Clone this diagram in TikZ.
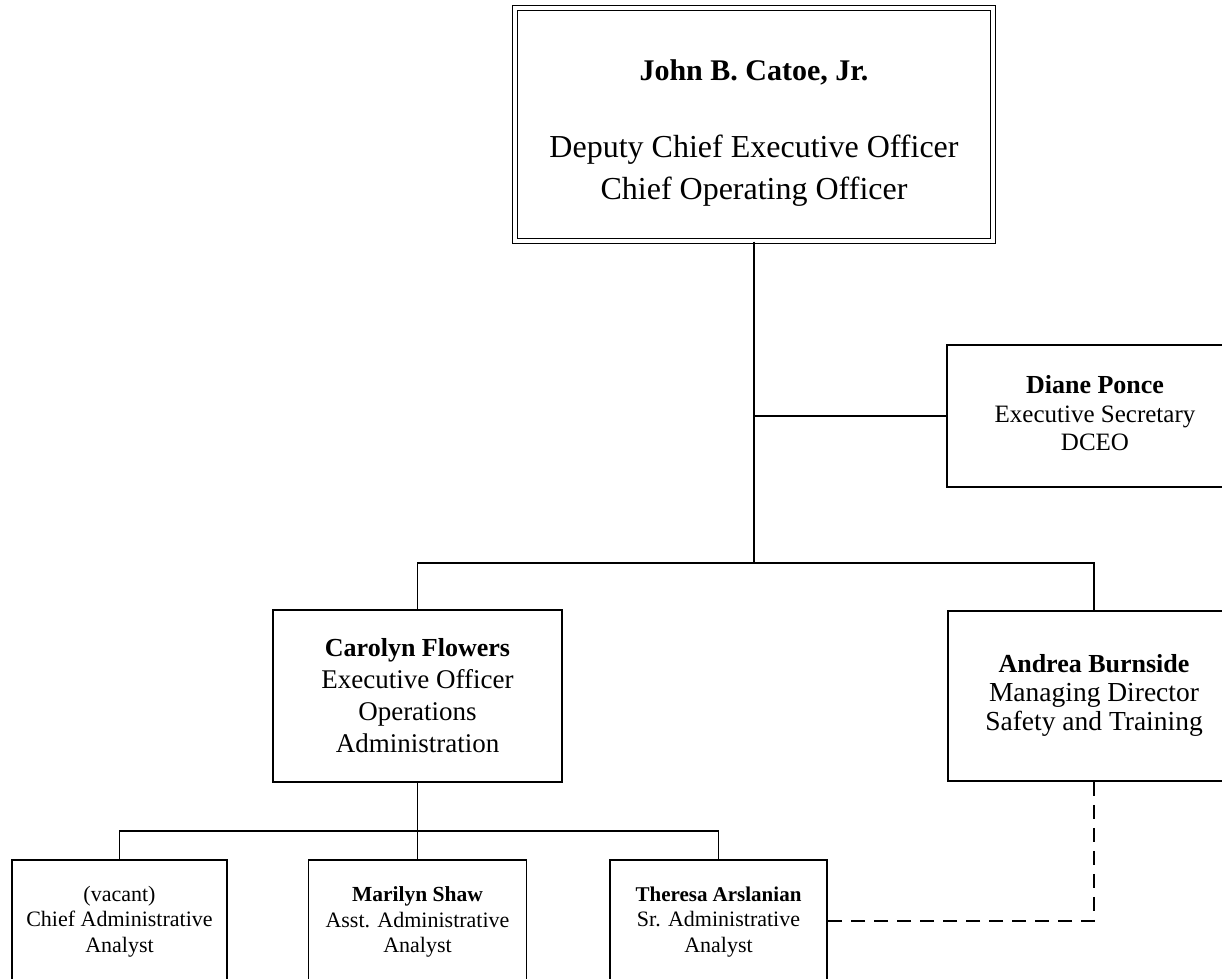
\documentclass[tikz,border=0pt]{standalone}
\usepackage{fontspec}
\setmainfont{Liberation Serif}
\begin{document}
\begin{tikzpicture}[x=1pt,y=-1pt,
  box/.style={draw, line width=1.9pt, rectangle, inner sep=0pt},
  dblbox/.style={draw, double, double distance=4pt, line width=1.4pt, rectangle, inner sep=0pt},
  txt/.style={anchor=north, align=center, inner sep=0pt},
  conn/.style={line width=1.9pt},
  dashconn/.style={line width=1.9pt, dash pattern=on 14pt off 9pt}]
\useasboundingbox (0,0) rectangle (1222,978);
\clip (0,0) rectangle (1222,978);

% boxes
\node[dblbox, minimum width=478pt, minimum height=233pt] (top) at (754,124.5) {};
\node[box, minimum width=296pt, minimum height=142pt] (diane) at (1095,416) {};
\node[box, minimum width=289pt, minimum height=172pt] (carolyn) at (417.5,696) {};
\node[box, minimum width=292pt, minimum height=170pt] (andrea) at (1094,696) {};
\node[box, minimum width=215pt, minimum height=140pt] (vacant) at (119.5,930) {};
\node[box, minimum width=218pt, minimum height=140pt] (marilyn) at (417.5,930) {};
\node[box, minimum width=217pt, minimum height=140pt] (theresa) at (718.5,930) {};

% texts
\node[txt, font=\fontsize{30}{36}\selectfont\bfseries] (topname) at (754,59.6) {John B. Catoe, Jr.};
\node[txt, font=\fontsize{32}{42}\selectfont] (toptitle) at (754,135.2) {Deputy Chief Executive Officer\\Chief Operating Officer};
\node[txt, font=\fontsize{25}{28.5}\selectfont] (dianeT) at (1095,375.3) {{\fontsize{26}{28.5}\selectfont\bfseries Diane Ponce}\\Executive Secretary\\DCEO};
\node[txt, font=\fontsize{27}{32}\selectfont] (carolynT) at (417.5,638.6) {{\fontsize{26}{32}\selectfont\bfseries Carolyn Flowers}\\Executive Officer\\Operations\\Administration};
\node[txt, font=\fontsize{27.5}{29}\selectfont] (andreaT) at (1094,654.3) {{\fontsize{26}{29}\selectfont\bfseries Andrea Burnside}\\Managing Director\\Safety and Training};
\node[txt, font=\fontsize{22}{25.5}\selectfont] (vacantT) at (119.5,885.8) {(vacant)\\Chief Administrative\\Analyst};
\node[txt, font=\fontsize{22}{25.5}\selectfont] (marilynT) at (417.5,886.4) {{\fontsize{21.5}{25.5}\selectfont\bfseries Marilyn Shaw}\\Asst. Administrative\\Analyst};
\node[txt, font=\fontsize{22}{25.5}\selectfont] (theresaT) at (718.5,886.4) {{\fontsize{21}{25.5}\selectfont\bfseries Theresa Arslanian}\\Sr. Administrative\\Analyst};

% connectors
\coordinate (hub) at (754,563);
\coordinate (hub2) at (417.5,831);
\coordinate (dl) at (1094,921);
\draw[conn] (top.south) -- (hub);
\draw[conn] (top.south |- diane.west) -- (diane.west);
\draw[conn] (carolyn.north) -- (carolyn.north |- hub) -- (andrea.north |- hub) -- (andrea.north);
\draw[conn] (carolyn.south) -- (marilyn.north);
\draw[conn] (vacant.north) -- (vacant.north |- hub2) -- (theresa.north |- hub2) -- (theresa.north);
\draw[dashconn] (andrea.south) -- (dl) -- (theresa.east |- dl);
\end{tikzpicture}
\end{document}
